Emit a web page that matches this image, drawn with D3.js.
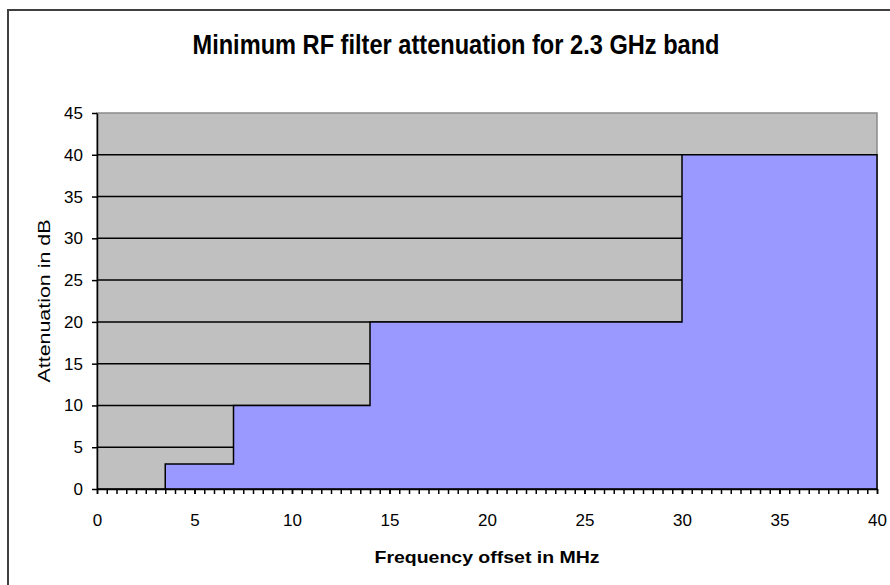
<!DOCTYPE html>
<html>
<head>
<meta charset="utf-8">
<script src="https://cdn.jsdelivr.net/npm/d3@7"></script>
<style>
  body { margin: 0; background: #fff; }
  svg { display: block; }
  text { font-family: "Liberation Sans", Arial, sans-serif; fill: #000; }
</style>
</head>
<body>
<div id="chart"></div>
<script>
// step edges (MHz) and the attenuation that holds from each edge on (dB)
const freqOffsets = [0, 3.5, 7, 14, 30, 40];
const attenuation = [0, 3, 10, 20, 40, 40];
const xTicks = [0, 5, 10, 15, 20, 25, 30, 35, 40];
const yTicks = [0, 5, 10, 15, 20, 25, 30, 35, 40, 45];
const gridValues = [5, 10, 15, 20, 25, 30, 35, 40];

const width = 890;
const height = 585;
const margin = { top: 113, right: 13, bottom: 96, left: 97 };

const points = freqOffsets.map((f, i) => ({ f, a: attenuation[i] }));

const svg = d3.select('#chart')
  .append('svg')
  .attr('width', width)
  .attr('height', height);

// outer chart border (runs off the right and bottom of the picture)
svg.append('rect')
  .attr('x', 8)
  .attr('y', 10)
  .attr('width', 900)
  .attr('height', 600)
  .attr('fill', '#fff')
  .attr('stroke', '#404040')
  .attr('stroke-width', 2);

const x = d3.scaleLinear().domain([0, 40]).range([margin.left, width - margin.right]);
const y = d3.scaleLinear().domain([0, 45]).range([height - margin.bottom, margin.top]);

// plot area
svg.append('rect')
  .attr('x', x(0))
  .attr('y', y(45))
  .attr('width', x(40) - x(0))
  .attr('height', y(0) - y(45))
  .attr('fill', '#c0c0c0')
  .attr('stroke', '#8a8a8a')
  .attr('stroke-width', 1.5);

// horizontal gridlines
svg.append('g')
  .selectAll('line')
  .data(gridValues)
  .join('line')
  .attr('x1', x(0))
  .attr('x2', x(40))
  .attr('y1', (d) => y(d))
  .attr('y2', (d) => y(d))
  .attr('stroke', '#000')
  .attr('stroke-width', 1.5);

// filter mask as a step area
const area = d3.area()
  .curve(d3.curveStepAfter)
  .x((d) => x(d.f))
  .y0(y(0))
  .y1((d) => y(d.a));

svg.append('path')
  .datum(points)
  .attr('d', area)
  .attr('fill', '#9999ff')
  .attr('stroke', '#000')
  .attr('stroke-width', 1.5)
  .attr('stroke-linejoin', 'miter');

// axes
const minorTicks = d3.range(0, 40.01, 0.5);

svg.append('g')
  .attr('transform', `translate(0, ${y(0)})`)
  .call(d3.axisBottom(x).tickValues(minorTicks).tickSize(5).tickFormat(''))
  .call((g) => g.select('.domain').remove())
  .selectAll('line').attr('stroke-width', 1.5);

const xAxis = svg.append('g')
  .attr('transform', `translate(0, ${y(0)})`)
  .call(d3.axisBottom(x).tickValues(xTicks).tickSize(5).tickPadding(20).tickSizeOuter(0));
xAxis.select('.domain').attr('stroke-width', 1.5);
xAxis.selectAll('line').attr('stroke-width', 1.5);
xAxis.selectAll('text').style('font-size', '17px');

const yAxis = svg.append('g')
  .attr('transform', `translate(${x(0)}, 0)`)
  .call(d3.axisLeft(y).tickValues(yTicks).tickSize(5).tickPadding(9).tickSizeOuter(0));
yAxis.select('.domain').attr('stroke-width', 1.5);
yAxis.selectAll('line').attr('stroke-width', 1.5);
yAxis.selectAll('text').style('font-size', '17px');

// title and axis titles
svg.append('text')
  .attr('x', 456)
  .attr('y', 54)
  .attr('text-anchor', 'middle')
  .attr('textLength', 527)
  .attr('lengthAdjust', 'spacingAndGlyphs')
  .style('font-family', '"Liberation Sans Narrow", "Liberation Sans", Arial, sans-serif')
  .style('font-size', '27px')
  .style('font-weight', 'bold')
  .text('Minimum RF filter attenuation for 2.3 GHz band');

svg.append('text')
  .attr('x', (x(0) + x(40)) / 2)
  .attr('y', 563)
  .attr('text-anchor', 'middle')
  .attr('textLength', 225)
  .attr('lengthAdjust', 'spacingAndGlyphs')
  .style('font-size', '17px')
  .style('font-weight', 'bold')
  .text('Frequency offset in MHz');

svg.append('text')
  .attr('transform', `translate(50, ${(y(0) + y(45)) / 2}) rotate(-90)`)
  .attr('text-anchor', 'middle')
  .attr('textLength', 163)
  .attr('lengthAdjust', 'spacingAndGlyphs')
  .style('font-size', '17px')
  .text('Attenuation in dB');
</script>
</body>
</html>
